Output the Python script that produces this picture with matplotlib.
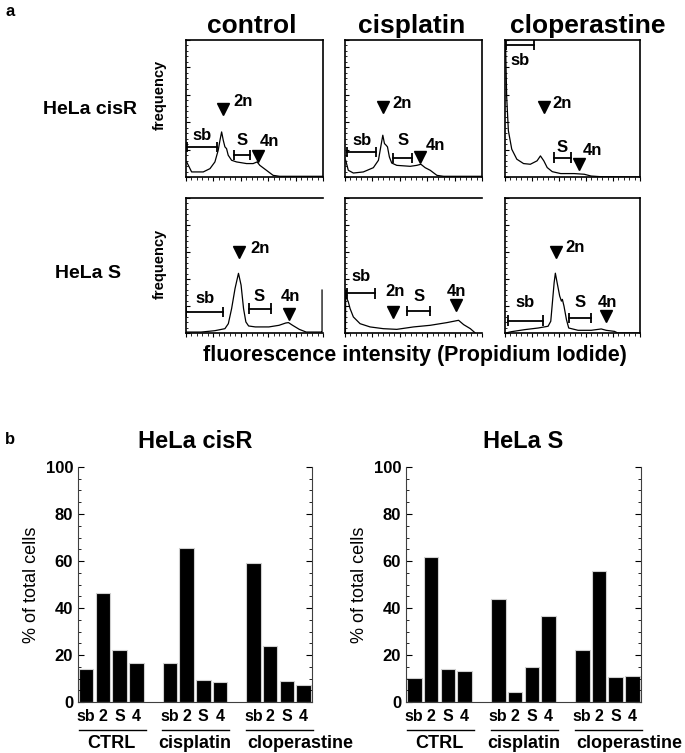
import matplotlib
matplotlib.use("Agg")
from matplotlib import pyplot as plt
from matplotlib.ticker import MultipleLocator
import matplotlib.transforms as mtransforms

plt.rcParams["font.family"] = ["Liberation Sans", "DejaVu Sans"]
plt.rcParams["font.weight"] = "bold"

W, H = 685, 753

treatments = ["control", "cisplatin", "cloperastine"]
cell_lines = ["HeLa cisR", "HeLa S"]

# DNA histograms, x = PI channel (0-100), y = frequency (0-100)
cisr_control_x = [0.5, 4.1, 12.6, 17.5, 21.1, 23.5, 24.8, 26.0, 27.2, 28.4, 29.6, 30.8,
                  33.3, 36.9, 44.2, 49.0, 51.9, 53.9, 58.7, 63.6, 68.4, 100]
cisr_control_y = [11.0, 3.7, 3.7, 6.1, 11.0, 19.5, 26.8, 32.9, 26.8, 22.0, 20.7, 15.9,
                  12.2, 11.0, 9.8, 9.8, 11.0, 8.5, 4.9, 1.2, 0.5, 0.5]

cisr_cispl_x = [0.5, 2.4, 6.1, 13.4, 20.7, 24.4, 26.1, 27.6, 28.8, 30.0, 31.0, 32.4,
                34.1, 37.8, 47.6, 52.4, 55.4, 58.5, 62.2, 67.1, 72.0, 100]
cisr_cispl_y = [12.2, 4.9, 2.9, 3.7, 6.8, 12.2, 22.0, 30.5, 24.4, 23.2, 22.0, 14.6,
                10.2, 8.5, 7.8, 8.5, 9.3, 6.8, 4.9, 1.2, 0.5, 0.5]

cisr_clop_x = [0.1, 0.5, 1.25, 2.5, 5.0, 8.75, 13.75, 18.75, 23.75, 26.25, 28.75,
               31.25, 35.0, 41.25, 51.25, 58.75, 63.75, 71.25, 100]
cisr_clop_y = [100, 92.6, 58.3, 33.8, 20.3, 13.0, 9.8, 9.3, 11.8, 15.4, 11.8,
               6.9, 3.9, 2.5, 2.5, 2.0, 0.7, 0.2, 0.0]

s_control_x = [0.5, 11.1, 21.0, 28.4, 30.9, 33.3, 35.8, 38.3, 40.2, 42.0, 43.7, 45.7,
               50.6, 60.5, 67.9, 72.8, 74.8, 77.8, 82.7, 87.7, 98.8, 99.3, 99.3]
s_control_y = [0.7, 0.7, 1.7, 3.2, 6.9, 18.1, 33.0, 44.2, 35.5, 18.1, 8.2, 5.2,
               4.5, 4.5, 5.7, 7.4, 7.7, 5.7, 2.7, 0.7, 0.7, 0.7, 31.8]

s_cispl_x = [0.3, 0.5, 1.2, 2.4, 3.7, 6.1, 11.0, 18.3, 28.0, 37.8, 50.0, 62.2, 74.4,
             82.9, 86.6, 91.5, 95.1]
s_cispl_y = [0.0, 31.8, 26.0, 23.1, 18.1, 11.9, 6.9, 4.5, 3.2, 2.7, 4.5, 5.7, 7.7,
             9.4, 6.2, 3.2, 0.0]

s_clop_x = [0.5, 4.9, 14.7, 24.6, 31.9, 33.9, 35.1, 36.4, 37.3, 38.6, 40.5, 41.8,
            42.5, 43.7, 45.5, 47.2, 54.1, 63.9, 71.3, 74.9, 81.1, 83.5, 100]
s_clop_y = [0.0, 1.0, 2.5, 3.7, 5.0, 8.7, 22.4, 37.3, 44.3, 37.3, 27.4, 23.6,
            24.9, 19.9, 10.0, 3.7, 2.0, 2.0, 3.0, 2.0, 1.2, 0.0, 0.0]

# gates (sb and S windows) and peak positions (2n, 4n) on the PI axis
sb_gates = [(1.0, 22.4), (1.7, 22.7), (0.5, 21.3), (0.0, 27.2), (1.2, 22.0), (2.0, 28.3)]
s_gates = [(35.2, 46.6), (35.4, 48.8), (36.3, 48.8), (45.7, 61.7), (45.6, 62.2), (47.2, 63.9)]
peak_2n = [27.2, 28.0, 28.8, 38.8, 35.4, 38.1]
peak_4n = [52.7, 54.9, 55.0, 75.3, 81.2, 74.9]

# cell cycle distribution (% of total cells)
phases = ["sb", "2", "S", "4"]
groups = ["CTRL", "cisplatin", "cloperastine"]
cisr_pct = [14.1, 46.5, 22.0, 16.8, 16.5, 65.6, 9.5, 8.3, 59.2, 23.9, 9.1, 7.4]
s_pct = [10.4, 61.7, 14.1, 13.2, 44.0, 4.1, 14.7, 36.8, 22.0, 55.6, 10.7, 11.0]


def add_axes(fig, x0, y0, x1, y1):
    return fig.add_axes([x0 / W, 1 - y1 / H, (x1 - x0) / W, (y1 - y0) / H])


def bracket(ax, x0, x1, y):
    ax.plot([x0, x1], [y, y], color="black", lw=1.3)
    ax.vlines([x0, x1], y - 3.8, y + 3.8, color="black", lw=1.3)


def draw_hist(ax, xs, ys, k, lay, hide_right=False):
    ax.plot(xs, ys, color="black", lw=0.9)
    ax.set_xlim(0, 100)
    ax.set_ylim(0, 100)
    ax.xaxis.set_major_locator(MultipleLocator(20))
    ax.xaxis.set_minor_locator(MultipleLocator(4))
    ax.yaxis.set_major_locator(MultipleLocator(20))
    ax.yaxis.set_minor_locator(MultipleLocator(4))
    ax.tick_params(axis="x", which="major", direction="out", length=3, width=0.8)
    ax.tick_params(axis="x", which="minor", direction="out", length=2, width=0.6)
    ax.tick_params(axis="y", which="major", direction="in", length=3, width=0.8)
    ax.tick_params(axis="y", which="minor", direction="in", length=1.5, width=0.6)
    ax.set_xticklabels([])
    ax.set_yticklabels([])
    for sp in ax.spines.values():
        sp.set_linewidth(1.2)
    if hide_right:
        ax.spines["right"].set_visible(False)

    sb_y, sb_ty, s_y, s_ty, t2_y, t4_y, l4_dx, l4_y = lay
    bracket(ax, sb_gates[k][0], sb_gates[k][1], sb_y)
    ax.text(sum(sb_gates[k]) / 2, sb_ty, "sb", ha="center", va="center", fontsize=12)
    bracket(ax, s_gates[k][0], s_gates[k][1], s_y)
    ax.text(sum(s_gates[k]) / 2, s_ty, "S", ha="center", va="center", fontsize=12)
    ax.plot(peak_2n[k], t2_y, marker="v", color="black", ms=9)
    ax.plot(peak_4n[k], t4_y, marker="v", color="black", ms=9)
    return ax


fig = plt.figure(figsize=(W / 100, H / 100), dpi=100)

cols_x = [(186, 323), (345, 482), (505, 640)]
rows_y = [(40, 177), (198, 333)]
title_x = [252, 412, 588]
traces = [(cisr_control_x, cisr_control_y), (cisr_cispl_x, cisr_cispl_y),
          (cisr_clop_x, cisr_clop_y), (s_control_x, s_control_y),
          (s_cispl_x, s_cispl_y), (s_clop_x, s_clop_y)]

# label layout per panel: sb bar y, sb text y, S bar y, S text y,
# 2n triangle y, 4n triangle y, 4n text x offset, 4n text y
layouts = [
    (22.0, 30.5, 15.9, 26.8, 49.3, 15.0, 8.5, 25.6),
    (18.3, 26.8, 13.9, 26.8, 51.2, 14.6, 11.0, 23.2),
    (96.3, 85.3, 14.2, 21.6, 51.0, 9.3, 10.0, 19.1),
    (15.6, 25.6, 18.1, 26.8, 60.3, 14.4, 1.2, 26.8),
    (29.3, 41.7, 16.1, 26.8, 15.6, 20.6, 0.5, 30.5),
    (9.2, 22.4, 11.2, 22.4, 59.7, 12.4, 1.3, 22.4),
]
label_2n = [(41.7, 54.9), (41.5, 54.0), (42.5, 53.9), (54.3, 62.8), (36.6, 30.5), (51.6, 63.4)]

for k in range(6):
    r, c = divmod(k, 3)
    ax = add_axes(fig, cols_x[c][0], rows_y[r][0], cols_x[c][1], rows_y[r][1])
    lay = layouts[k]
    draw_hist(ax, traces[k][0], traces[k][1], k, lay, hide_right=(k in (3, 4)))
    ax.text(label_2n[k][0], label_2n[k][1], "2n", ha="center", va="center", fontsize=12)
    ax.text(peak_4n[k] + lay[6], lay[7], "4n", ha="center", va="center", fontsize=12)

for c in range(3):
    fig.text(title_x[c] / W, 1 - 33 / H, treatments[c], fontsize=19, ha="center", va="baseline")

fig.text(5 / W, 1 - 12 / H, "a", fontsize=12, ha="left", va="center")
fig.text(160 / W, 1 - 95 / H, "frequency", rotation=90, fontsize=10.5, ha="center", va="center")
fig.text(160 / W, 1 - 264 / H, "frequency", rotation=90, fontsize=10.5, ha="center", va="center")
fig.text(90 / W, 1 - 110 / H, cell_lines[0], fontsize=14, ha="center", va="center")
fig.text(88 / W, 1 - 273 / H, cell_lines[1], fontsize=14, ha="center", va="center")
fig.text(415 / W, 1 - 355 / H, "fluorescence intensity (Propidium Iodide)",
         fontsize=15.5, ha="center", va="center")

# panel b
fig.text(5 / W, 1 - 440 / H, "b", fontsize=12, ha="left", va="center")
bar_x = [(78, 312), (406, 641)]
positions = [g * 5 + i for g in range(3) for i in range(4)]
group_shift = [0, 0, 1.3]
for j, vals in enumerate([cisr_pct, s_pct]):
    ax = add_axes(fig, bar_x[j][0], 467, bar_x[j][1], 702)
    ax.bar(positions, vals, width=0.87, color="black", edgecolor="#d0d0d0", linewidth=0.8)
    ax.set_xlim(-0.49, 13.5)
    ax.set_ylim(0, 100)
    ax.yaxis.set_major_locator(MultipleLocator(20))
    ax.yaxis.set_minor_locator(MultipleLocator(5))
    ax.tick_params(axis="y", which="both", direction="in", right=True, labelsize=12)
    ax.tick_params(axis="y", which="major", length=4, width=0.8)
    ax.tick_params(axis="y", which="minor", length=2, width=0.6)
    ax.set_xticks(positions)
    ax.set_xticklabels(phases * 3, fontsize=11.5)
    ax.tick_params(axis="x", length=0, pad=5)
    ax.spines["top"].set_visible(False)
    for sp in ("left", "right", "bottom"):
        ax.spines[sp].set_color("#404040")
        ax.spines[sp].set_linewidth(0.8)
    ax.set_ylabel("% of total cells", fontsize=13, labelpad=4)
    ax.set_title(cell_lines[j], fontsize=17, fontweight="bold", pad=14)
    trans = mtransforms.blended_transform_factory(ax.transData, ax.transAxes)
    for g, name in enumerate(groups):
        ax.plot([g * 5 - 0.45, g * 5 + 3.55], [-0.12, -0.12], color="black", lw=1.0,
                transform=trans, clip_on=False)
        ax.text(g * 5 + 1.5 + group_shift[g], -0.175, name, transform=trans,
                ha="center", va="center", fontsize=13)

fig.savefig("out.png", dpi=100)
